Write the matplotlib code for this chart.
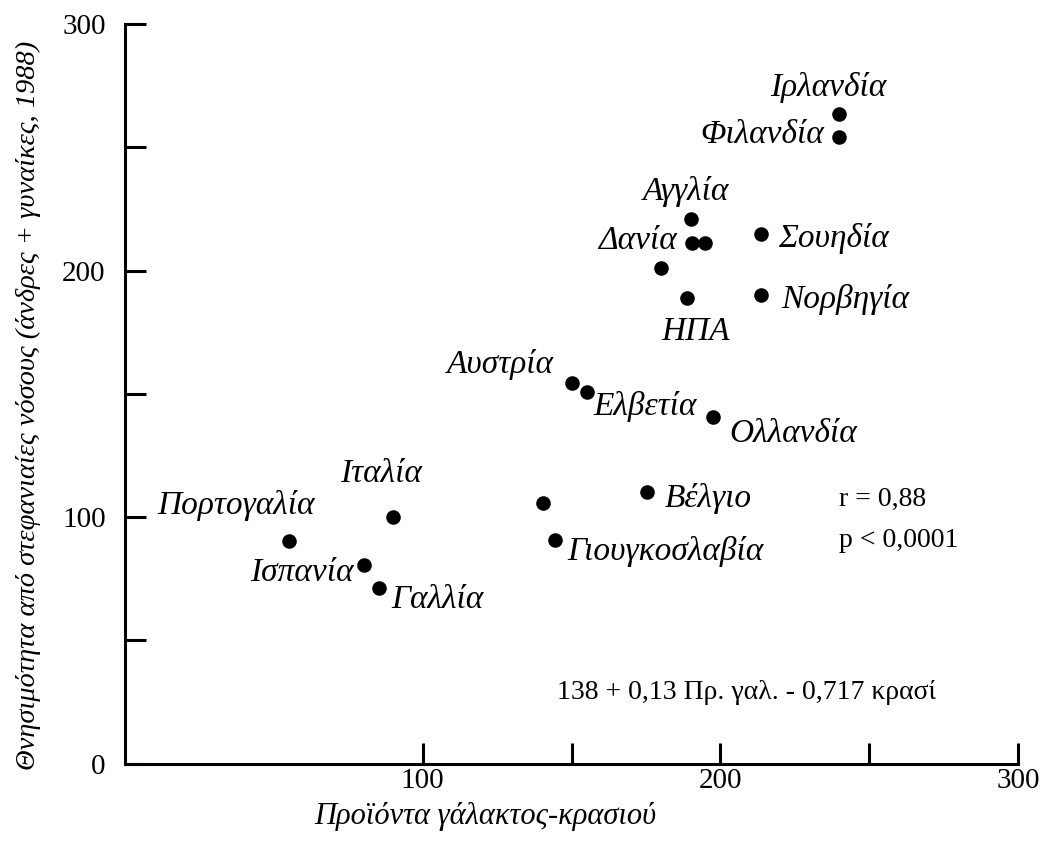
import matplotlib
matplotlib.use("Agg")
import matplotlib.pyplot as plt

plt.rcParams['font.family'] = ['Liberation Serif', 'DejaVu Serif']

countries = ["Ιρλανδία", "Φιλανδία", "Αγγλία", "Δανία", "", "Σουηδία", "",
             "ΗΠΑ", "Νορβηγία", "Αυστρία", "Ελβετία", "Ολλανδία", "Βέλγιο", "",
             "Γιουγκοσλαβία", "Ιταλία", "Πορτογαλία", "Ισπανία", "Γαλλία"]
milk_wine = [239.9, 239.9, 190.0, 190.4, 194.8, 213.5, 180.0,
             188.9, 213.5, 150.0, 155.1, 197.6, 175.2, 140.3,
             144.4, 90.1, 55.2, 80.4, 85.4]
mortality = [263.5, 254.1, 220.9, 211.1, 211.1, 214.9, 201.0,
             189.0, 190.1, 154.5, 150.9, 140.5, 110.3, 105.6,
             90.7, 100.2, 90.4, 80.6, 71.1]

x_ticks = [100, 150, 200, 250, 300]
x_tick_labels = ["100", "", "200", "", "300"]
y_ticks = [0, 50, 100, 150, 200, 250, 300]
y_tick_labels = ["0", "", "100", "", "200", "", "300"]

x_label = "Προϊόντα γάλακτος-κρασιού"
y_label = "Θνησιμότητα από στεφανιαίες νόσους (άνδρες + γυναίκες, 1988)"
stats_text = ["r = 0,88", "p < 0,0001"]
equation = "138 + 0,13 Πρ. γαλ. - 0,717 κρασί"

# label placement: (dx px, dy px to baseline, ha)
label_pos = {
    "Ιρλανδία": (-11, 18, "center"),
    "Φιλανδία": (-15, -6, "right"),
    "Αγγλία": (-5, 19, "center"),
    "Δανία": (-15, -6, "right"),
    "Σουηδία": (18, -13, "left"),
    "ΗΠΑ": (8, -42, "center"),
    "Νορβηγία": (21, -13, "left"),
    "Αυστρία": (-18, 10, "right"),
    "Ελβετία": (7, -23, "left"),
    "Ολλανδία": (16, -25, "left"),
    "Βέλγιο": (18, -15, "left"),
    "Γιουγκοσλαβία": (12, -20, "left"),
    "Ιταλία": (-12, 35, "center"),
    "Πορτογαλία": (25, 27, "right"),
    "Ισπανία": (-11, -16, "right"),
    "Γαλλία": (12, -20, "left"),
}

fig = plt.figure(figsize=(10.42, 8.46), dpi=100)
ax = fig.add_axes([0.12, 0.0975, 0.857, 0.874])

ax.scatter(milk_wine, mortality, s=110, color="black", zorder=3, linewidths=0)

for name, xv, yv in zip(countries, milk_wine, mortality):
    if not name:
        continue
    dx, dy, ha = label_pos[name]
    ax.annotate(name, (xv, yv), xytext=(dx, dy), textcoords="offset pixels",
                ha=ha, va="baseline", fontsize=24, fontstyle="italic")

ax.set_xlim(0, 300)
ax.set_ylim(0, 300)
for s in ["top", "right"]:
    ax.spines[s].set_visible(False)
for s in ["left", "bottom"]:
    ax.spines[s].set_linewidth(2.2)

ax.set_xticks(x_ticks)
ax.set_xticklabels(x_tick_labels, fontsize=21)
ax.set_yticks(y_ticks)
ax.set_yticklabels(y_tick_labels, fontsize=21)
ax.tick_params(axis="both", direction="in", length=15, width=2.2)
ax.tick_params(axis="y", pad=14)
ax.tick_params(axis="x", pad=3)

xl = ax.set_xlabel(x_label, fontsize=22, fontstyle="italic")
xl.set_va("center")
ax.xaxis.set_label_coords(0.403, -0.072)
yl = ax.set_ylabel(y_label, fontsize=20.5, fontstyle="italic")
yl.set_va("center")
ax.yaxis.set_label_coords(-0.108, 0.484)

ax.text(240, 107.3, stats_text[0], fontsize=20, ha="left", va="center")
ax.text(240, 90.3, stats_text[1], fontsize=20, ha="left", va="center")
ax.text(208.6, 29, equation, fontsize=20, ha="center", va="center")

fig.savefig("out.png", dpi=100)
